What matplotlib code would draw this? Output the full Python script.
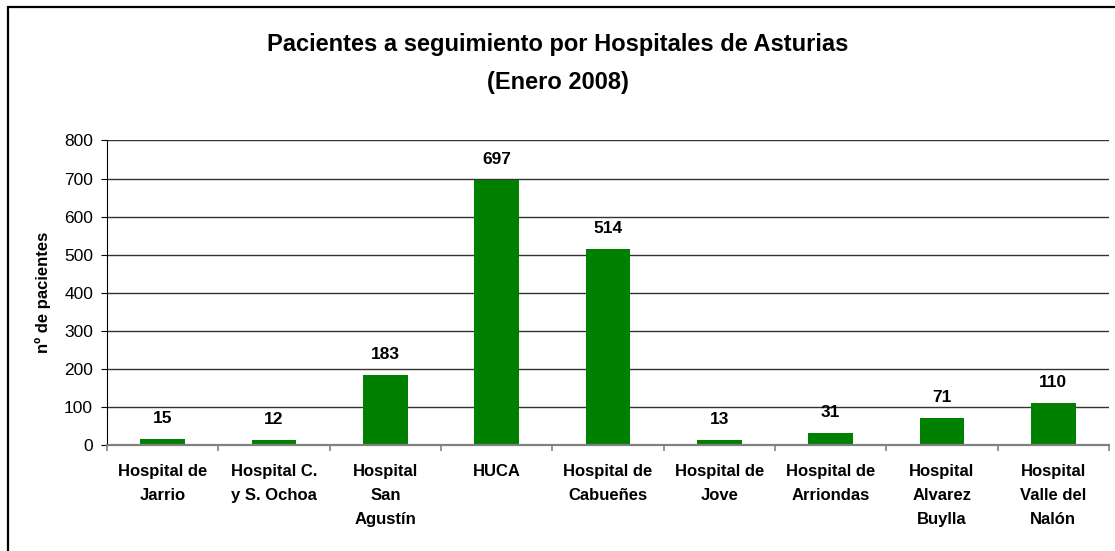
import matplotlib
matplotlib.use('Agg')
import matplotlib.pyplot as plt
from matplotlib.patches import Rectangle
import numpy as np

plt.rcParams['font.family'] = ['Liberation Sans', 'DejaVu Sans']

# datos del grafico
hospitales = ['Hospital de\nJarrio', 'Hospital C.\ny S. Ochoa', 'Hospital\nSan\nAgustín',
              'HUCA', 'Hospital de\nCabueñes', 'Hospital de\nJove', 'Hospital de\nArriondas',
              'Hospital\nAlvarez\nBuylla', 'Hospital\nValle del\nNalón']
pacientes = [15, 12, 183, 697, 514, 13, 31, 71, 110]
yticks = [0, 100, 200, 300, 400, 500, 600, 700, 800]

W, H = 1115, 551
fig = plt.figure(figsize=(W / 100, H / 100), dpi=100)
ax = fig.add_axes([107 / W, 1 - 445 / H, 1002 / W, 304.5 / H])

x = np.arange(len(hospitales))
ax.bar(x, pacientes, width=0.404, color='#008000', zorder=3)

for xi, v in zip(x, pacientes):
    ax.annotate(str(v), (xi, v), xytext=(0, 11.5), textcoords='offset points',
                ha='center', va='baseline', fontsize=12.5, fontweight='bold')

ax.set_xlim(-0.5, len(hospitales) - 0.5)
ax.set_ylim(0, 800)
ax.set_yticks(yticks)
ax.yaxis.grid(True, color='#333333', linewidth=1.0, zorder=0)
ax.set_axisbelow(True)

# etiquetas de categoria (sin marca) y marcas entre categorias
ax.set_xticks(x)
ax.set_xticklabels(hospitales, fontsize=12, fontweight='bold', linespacing=1.75)
ax.tick_params(axis='x', which='major', length=0, pad=13.5)
ax.set_xticks(np.arange(-0.5, len(hospitales)), minor=True)
ax.tick_params(axis='x', which='minor', length=4, width=1.2, color='#808080', direction='out')
ax.tick_params(axis='y', length=4, width=0.8, pad=6, labelsize=12.5)

for s in ['top', 'right']:
    ax.spines[s].set_visible(False)
ax.spines['bottom'].set_color('#808080')
ax.spines['bottom'].set_linewidth(1.6)
ax.spines['bottom'].set_zorder(4)
ax.spines['left'].set_color('black')
ax.spines['left'].set_linewidth(0.8)

fig.text(43 / W, 1 - 292 / H, 'nº de pacientes', rotation=90, ha='center', va='center',
         fontsize=12, fontweight='bold')

fig.text(0.5, 1 - 33 / H, 'Pacientes a seguimiento por Hospitales de Asturias\n(Enero 2008)',
         ha='center', va='top', fontsize=17, fontweight='bold', linespacing=1.85)

# marco exterior del grafico
fig.add_artist(Rectangle((8 / W, -0.1), 1.2, 1.1 - 7 / H, transform=fig.transFigure,
                         fill=False, edgecolor='black', linewidth=1.6))

fig.savefig('out.png', dpi=100)
